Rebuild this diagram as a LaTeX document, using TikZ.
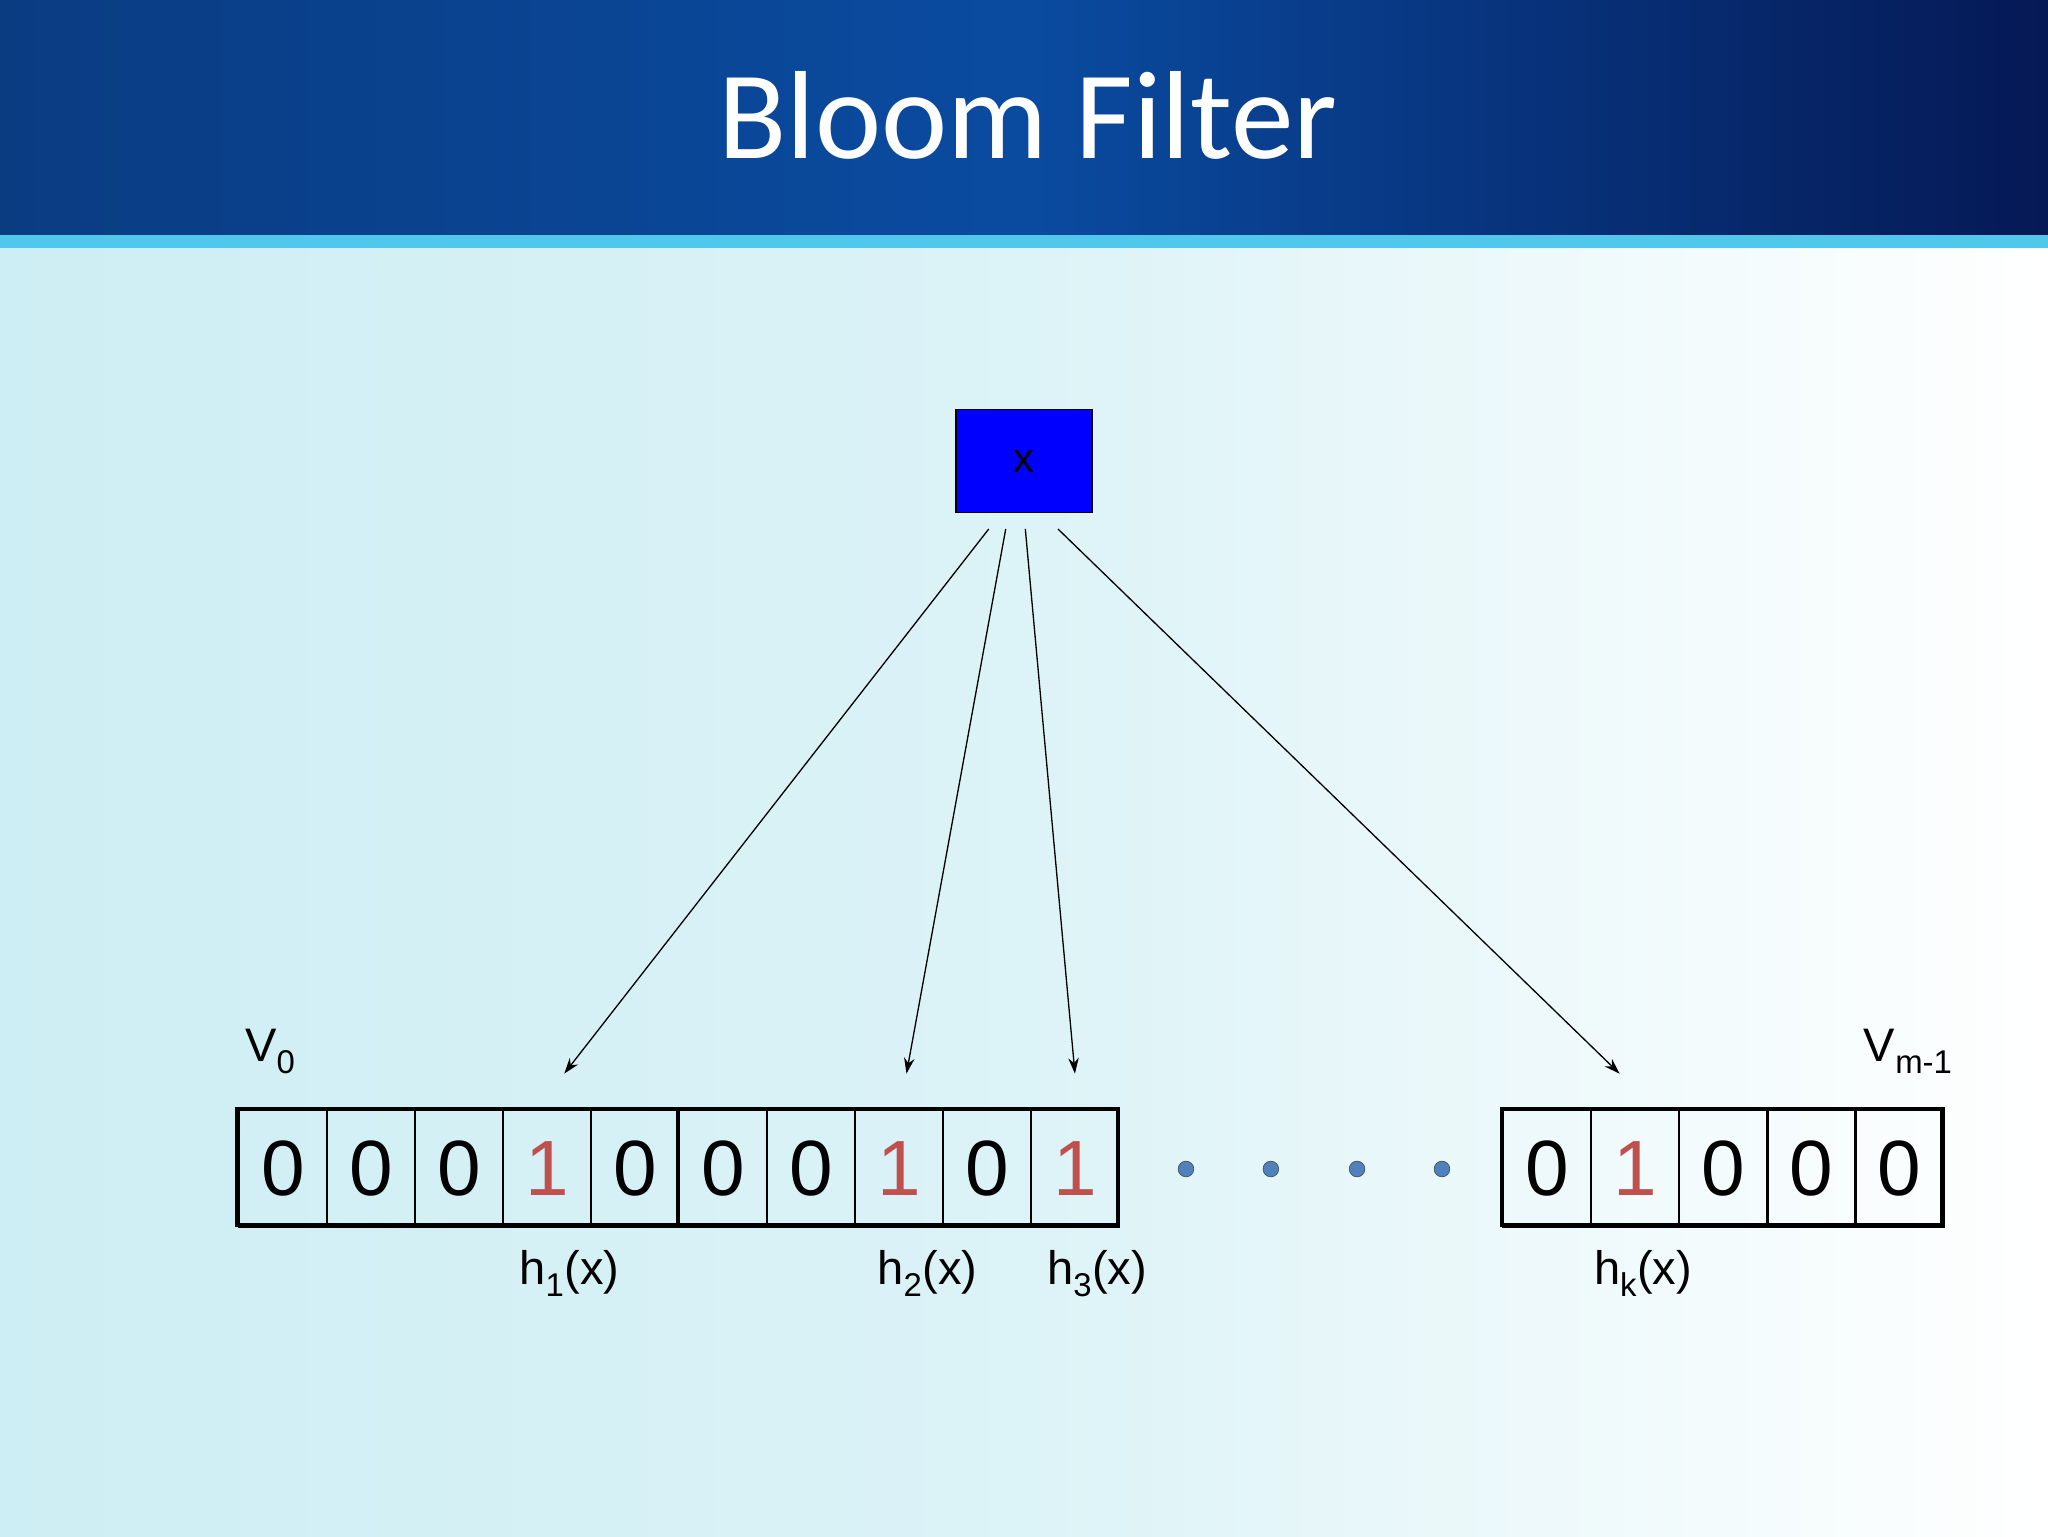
\documentclass[tikz,border=0pt]{standalone}
\usepackage{fontspec}
\usetikzlibrary{arrows.meta}
\setmainfont{Liberation Sans}
\newfontfamily\titlefont{Carlito}
\definecolor{bgL}{RGB}{205,238,244}
\definecolor{bgM}{RGB}{220,243,247}
\definecolor{hdL}{RGB}{10,60,130}
\definecolor{hdM}{RGB}{10,75,160}
\definecolor{hdR}{RGB}{5,25,85}
\definecolor{stripe}{RGB}{80,200,235}
\definecolor{onered}{RGB}{192,80,77}
\definecolor{dotblue}{RGB}{79,129,189}
\definecolor{xblue}{RGB}{0,0,255}
\begin{document}
\begin{tikzpicture}[x=1pt,y=-1pt,
  cell/.style={draw=black,line width=1.8pt,minimum width=67.4pt,minimum height=89pt,inner sep=0pt,font=\fontsize{60}{60}\selectfont,anchor=north west},
  one/.style={text=onered},
  lab/.style={font=\fontsize{36}{38}\selectfont},
  arr/.style={-{Stealth[length=12pt,width=8pt]},line width=1pt},
  dot/.style={circle,fill=dotblue,draw=black!70,line width=0.5pt,minimum size=12pt,inner sep=0pt}]
\useasboundingbox (0,0) rectangle (1568,1176);
\shade[left color=bgL,right color=white,middle color=bgM] (0,180) rectangle (1568,1176);
\shade[left color=hdL,right color=hdR,middle color=hdM] (0,0) rectangle (1568,180);
\fill[stripe] (0,180) rectangle (1568,190);
\node[text=white,font=\titlefont\fontsize{96}{96}\selectfont] (title) at (787,88) {Bloom Filter};
\node[draw=black,fill=xblue,line width=1pt,minimum width=104pt,minimum height=79pt,font=\fontsize{32}{32}\selectfont] (x) at (784,353) {x};
\foreach \v [count=\i from 0] in {0,0,0,1,0,0,0,1,0,1} {
  \ifnum\v=1 \node[cell,one] (a\i) at (182+\i*67.4,849) {1};
  \else \node[cell] (a\i) at (182+\i*67.4,849) {0}; \fi }
\foreach \v [count=\i from 0] in {0,1,0,0,0} {
  \ifnum\v=1 \node[cell,one] (b\i) at (1150+\i*67.4,849) {1};
  \else \node[cell] (b\i) at (1150+\i*67.4,849) {0}; \fi }
\draw[line width=3.5pt] (182,849) rectangle (856,938);
\draw[line width=3.5pt] (519,849) -- (519,938);
\draw[line width=3.5pt] (1150,849) rectangle (1487,938);
\foreach \p [count=\i] in {908,973,1039,1104} \node[dot] (d\i) at (\p,895) {};
\coordinate (t1) at (432,822); \coordinate (t2) at (694,822);
\coordinate (t3) at (823,822); \coordinate (t4) at (1240,822);
\coordinate (s1) at (757,405); \coordinate (s2) at (770,405);
\coordinate (s3) at (785,405); \coordinate (s4) at (810,405);
\foreach \i in {1,2,3,4} \draw[arr] (s\i) -- (t\i);
\node[lab] (h1) at (436,975) {h\textsubscript{1}(x)};
\node[lab] (h2) at (710,975) {h\textsubscript{2}(x)};
\node[lab] (h3) at (840,975) {h\textsubscript{3}(x)};
\node[lab] (hk) at (1258,975) {h\textsubscript{k}(x)};
\node[lab] (v0) at (207,805) {V\textsubscript{0}};
\node[lab] (vm) at (1461,805) {V\textsubscript{m-1}};
\end{tikzpicture}
\end{document}
